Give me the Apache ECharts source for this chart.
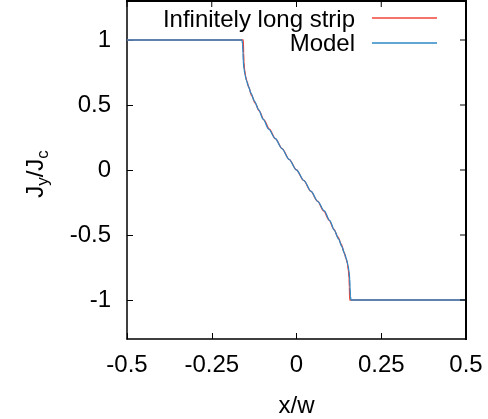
<!DOCTYPE html>
<html>
<head>
<meta charset="utf-8">
<script src="https://cdn.jsdelivr.net/npm/echarts@6/dist/echarts.min.js"></script>
<style>html,body{margin:0;padding:0;background:#fff}#c{width:488px;height:419px}</style>
</head>
<body>
<div id="c"></div>
<script>
var xTicks = [-0.5, -0.25, 0, 0.25, 0.5];
var yTicks = [-1, -0.5, 0, 0.5, 1];
var stripX = [-0.5, -0.157, -0.156, -0.155, -0.153, -0.150, -0.146, -0.140, -0.132, -0.122, -0.110, -0.096, -0.080, -0.062, -0.042, -0.021, 0, 0.021, 0.042, 0.062, 0.080, 0.096, 0.110, 0.122, 0.132, 0.140, 0.146, 0.150, 0.153, 0.155, 0.156, 0.157, 0.5];
var stripY = [1, 1, 0.90, 0.83, 0.77, 0.72, 0.68, 0.63, 0.57, 0.515, 0.455, 0.385, 0.315, 0.24, 0.163, 0.08, 0, -0.08, -0.163, -0.24, -0.315, -0.385, -0.455, -0.515, -0.57, -0.63, -0.68, -0.72, -0.77, -0.83, -0.90, -1, -1];
var modelX = [-0.5, -0.161, -0.159, -0.158, -0.157, -0.155, -0.152, -0.148, -0.142, -0.134, -0.124, -0.112, -0.098, -0.082, -0.063, -0.043, -0.022, 0, 0.022, 0.043, 0.063, 0.082, 0.098, 0.112, 0.124, 0.134, 0.142, 0.148, 0.152, 0.155, 0.157, 0.158, 0.159, 0.161, 0.5];
var modelY = [1, 1, 0.97, 0.90, 0.84, 0.78, 0.735, 0.69, 0.645, 0.59, 0.53, 0.465, 0.39, 0.315, 0.243, 0.165, 0.082, 0, -0.082, -0.165, -0.243, -0.315, -0.39, -0.465, -0.53, -0.59, -0.645, -0.69, -0.735, -0.78, -0.84, -0.90, -0.97, -1, -1];

function pairs(xs, ys) { return xs.map(function (x, i) { return [x, ys[i]]; }); }

var FONT = 'Liberation Sans';
var FS = 24;
var GRID = {left: 127, right: 22, top: 1, bottom: 80};
var chart = echarts.init(document.getElementById('c'), null, {renderer: 'canvas'});
function axisLine() { return {show: true, onZero: false, lineStyle: {color: '#000', width: 1.5}}; }
function tick(vals) { return {show: true, inside: true, length: 6, customValues: vals, lineStyle: {color: '#000', width: 1}}; }
chart.setOption({
  animation: false,
  textStyle: {fontFamily: FONT},
  grid: {left: GRID.left, right: GRID.right, top: GRID.top, bottom: GRID.bottom, containLabel: false, outerBoundsMode: 'none'},
  legend: {show: false},
  xAxis: [{
    type: 'value', min: -0.5, max: 0.5, position: 'bottom',
    axisLine: axisLine(), splitLine: {show: false},
    axisTick: tick(xTicks),
    axisLabel: {customValues: xTicks, color: '#000', fontSize: FS, fontFamily: FONT, margin: 14,
      formatter: function (v) { return String(v); }},
    name: 'x/w', nameLocation: 'middle', nameGap: 55,
    nameTextStyle: {color: '#000', fontSize: FS, fontFamily: FONT}
  }],
  yAxis: [{
    type: 'value', min: -1.3, max: 1.3, position: 'left',
    axisLine: axisLine(), splitLine: {show: false},
    axisTick: tick(yTicks),
    axisLabel: {customValues: yTicks, color: '#000', fontSize: FS, fontFamily: FONT, margin: 16,
      formatter: function (v) { return String(v); }}
  }],
  series: [{
    name: 'Infinitely long strip', type: 'line', data: pairs(stripX, stripY),
    showSymbol: false, smooth: 0.3, smoothMonotone: 'x', lineStyle: {color: '#f0443a', width: 1.3}, z: 2
  }, {
    name: 'Model', type: 'line', data: pairs(modelX, modelY),
    showSymbol: false, smooth: 0.3, smoothMonotone: 'x', lineStyle: {color: '#2e88c6', width: 1.3}, z: 3
  }]
});

var W = 488, H = 419;
var L = GRID.left, R = W - GRID.right, B = H - GRID.bottom, T = GRID.top;
var g = [];
g.push({type: 'rect', z: 100, silent: true, shape: {x: R - 1, y: T - 1, width: 2, height: B - T + 2}, style: {fill: '#000', stroke: null}});
g.push({type: 'rect', z: 100, silent: true, shape: {x: L - 1, y: T - 1, width: R - L + 2, height: 2}, style: {fill: '#000', stroke: null}});
xTicks.forEach(function (v) {
  var px = chart.convertToPixel({xAxisIndex: 0}, v);
  g.push({type: 'rect', z: 100, silent: true, shape: {x: px - 0.5, y: T, width: 1, height: 6}, style: {fill: '#000', stroke: null}});
});
yTicks.forEach(function (v) {
  var py = chart.convertToPixel({yAxisIndex: 0}, v);
  g.push({type: 'rect', z: 100, silent: true, shape: {x: R - 6, y: py - 0.5, width: 6, height: 1}, style: {fill: '#000', stroke: null}});
});
g.push({
  type: 'text', x: 36, y: 174, rotation: Math.PI / 2, originX: 0, originY: 0,
  style: {
    text: '{a|J}{b|y}{a|/J}{b|c}',
    align: 'center', verticalAlign: 'middle',
    rich: {
      a: {fontSize: FS, fontFamily: FONT, fill: '#000', lineHeight: 32, verticalAlign: 'middle'},
      b: {fontSize: 17, fontFamily: FONT, fill: '#000', lineHeight: 14, verticalAlign: 'bottom'}
    }
  }
});
g.push({type: 'text', x: 355, y: 20, style: {text: 'Infinitely long strip', fontSize: FS, fontFamily: FONT, fill: '#000', align: 'right', verticalAlign: 'middle'}});
g.push({type: 'text', x: 355, y: 44, style: {text: 'Model', fontSize: FS, fontFamily: FONT, fill: '#000', align: 'right', verticalAlign: 'middle'}});
g.push({type: 'line', shape: {x1: 372, y1: 18, x2: 437, y2: 18}, style: {stroke: '#f0443a', lineWidth: 1.3}});
g.push({type: 'line', shape: {x1: 372, y1: 43, x2: 437, y2: 43}, style: {stroke: '#2e88c6', lineWidth: 1.3}});
chart.setOption({graphic: g});
</script>
</body>
</html>
